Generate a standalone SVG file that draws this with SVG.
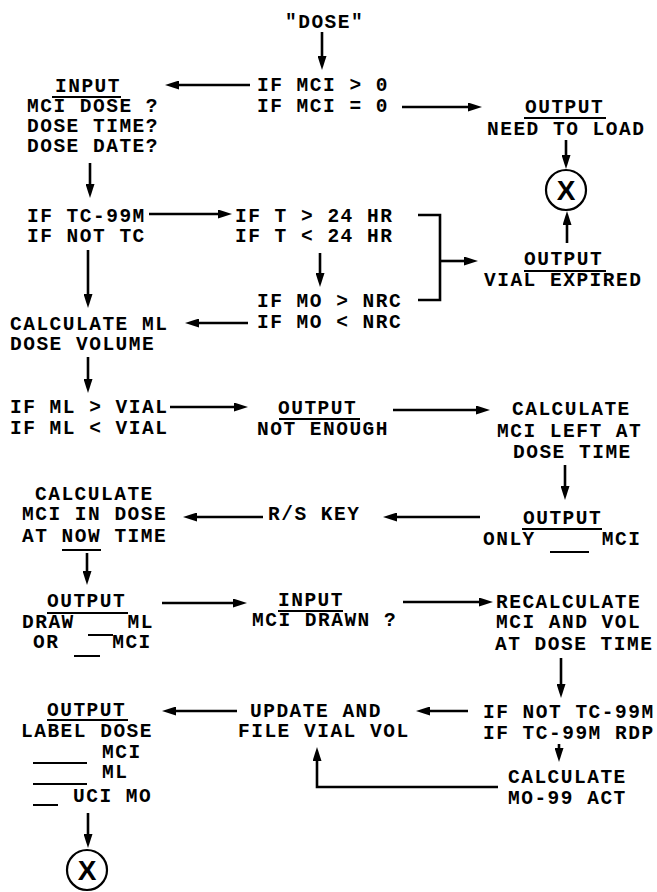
<svg xmlns="http://www.w3.org/2000/svg" width="657" height="892" viewBox="0 0 657 892">
<defs>
<style>
.t{font-family:"Liberation Mono","Courier New",monospace;font-weight:bold;font-size:19.5px;letter-spacing:1.5px;fill:#000;white-space:pre}
.u{stroke:#000;stroke-width:2;fill:none}
.c{stroke:#000;stroke-width:2.6;fill:none}
.a{stroke:#000;stroke-width:2.6;fill:none;marker-end:url(#ah)}
.circ{stroke:#000;stroke-width:2.2;fill:#fff}
.x{font-family:"Liberation Sans",Arial,sans-serif;font-weight:bold;font-size:28px;fill:#000;text-anchor:middle}
</style>
<marker id="ah" viewBox="0 0 14 9" refX="5" refY="4.5" markerWidth="14" markerHeight="9" markerUnits="userSpaceOnUse" orient="auto">
<path d="M0,0 L14,4.5 L0,9 z" fill="#000"/>
</marker>
</defs>
<rect width="657" height="892" fill="#fff"/>

<g id="connectors">
<line class="a" x1="322" y1="32" x2="322" y2="61"/>
<line class="a" x1="250" y1="85" x2="174" y2="85"/>
<line class="a" x1="402" y1="107" x2="473" y2="107"/>
<line class="a" x1="90" y1="163" x2="90" y2="189"/>
<line class="a" x1="566" y1="140" x2="566" y2="160"/>
<line class="a" x1="567" y1="243" x2="567" y2="220"/>
<line class="a" x1="149" y1="214" x2="223" y2="214"/>
<polyline class="c" points="418,215 440,215 440,300 418,300"/>
<line class="a" x1="440" y1="261" x2="469" y2="261"/>
<line class="a" x1="320" y1="253" x2="320" y2="278"/>
<line class="a" x1="248" y1="323" x2="194" y2="323"/>
<line class="a" x1="88" y1="250" x2="88" y2="299"/>
<line class="a" x1="88" y1="357" x2="88" y2="384"/>
<line class="a" x1="170" y1="407" x2="239" y2="407"/>
<line class="a" x1="393" y1="410" x2="481" y2="410"/>
<line class="a" x1="565" y1="465" x2="565" y2="491"/>
<line class="a" x1="480" y1="517" x2="392" y2="517"/>
<line class="a" x1="263" y1="517" x2="192" y2="517"/>
<line class="a" x1="87" y1="553" x2="87" y2="576"/>
<line class="a" x1="162" y1="603" x2="238" y2="603"/>
<line class="a" x1="403" y1="602" x2="484" y2="602"/>
<line class="a" x1="561" y1="658" x2="561" y2="689"/>
<line class="a" x1="468" y1="711" x2="425" y2="711"/>
<line class="a" x1="559" y1="744" x2="559" y2="753"/>
<path class="a" d="M498,787 H317 V756"/>
<line class="a" x1="237" y1="711" x2="171" y2="711"/>
<line class="a" x1="88" y1="813" x2="88" y2="839"/>
</g>

<g id="start"><text class="t" x="285" y="28">"DOSE"</text></g>

<g id="if-mci">
<text class="t" x="257" y="91">IF MCI &gt; 0</text>
<text class="t" x="257" y="112">IF MCI = 0</text>
</g>

<g id="input-dose">
<text class="t" x="55" y="92">INPUT</text>
<line class="u" x1="52" y1="97" x2="121" y2="97"/>
<text class="t" x="27" y="112">MCI DOSE ?</text>
<text class="t" x="27" y="132">DOSE TIME?</text>
<text class="t" x="27" y="152">DOSE DATE?</text>
</g>

<g id="output-need-load">
<text class="t" x="525" y="113">OUTPUT</text>
<line class="u" x1="524" y1="118" x2="606" y2="118"/>
<text class="t" x="487" y="135">NEED TO LOAD</text>
</g>

<g id="exit-1">
<circle class="circ" cx="566" cy="190" r="20"/>
<text class="x" x="566" y="200">X</text>
</g>

<g id="output-vial-expired">
<text class="t" x="524" y="265">OUTPUT</text>
<line class="u" x1="524" y1="271" x2="606" y2="271"/>
<text class="t" x="484" y="286">VIAL EXPIRED</text>
</g>

<g id="if-tc">
<text class="t" x="27" y="222">IF TC-99M</text>
<text class="t" x="27" y="242">IF NOT TC</text>
</g>

<g id="if-t">
<text class="t" x="235" y="222">IF T &gt; 24 HR</text>
<text class="t" x="235" y="242">IF T &lt; 24 HR</text>
</g>

<g id="if-mo">
<text class="t" x="257" y="307">IF MO &gt; NRC</text>
<text class="t" x="257" y="328">IF MO &lt; NRC</text>
</g>

<g id="calc-ml">
<text class="t" x="10" y="330">CALCULATE ML</text>
<text class="t" x="10" y="350">DOSE VOLUME</text>
</g>

<g id="if-ml">
<text class="t" x="10" y="413">IF ML &gt; VIAL</text>
<text class="t" x="10" y="434">IF ML &lt; VIAL</text>
</g>

<g id="output-not-enough">
<text class="t" x="278" y="414">OUTPUT</text>
<line class="u" x1="279" y1="419" x2="360" y2="419"/>
<text class="t" x="257" y="435">NOT ENOUGH</text>
</g>

<g id="calc-mci-left">
<text class="t" x="512" y="415">CALCULATE</text>
<text class="t" x="497" y="437">MCI LEFT AT</text>
<text class="t" x="513" y="458">DOSE TIME</text>
</g>

<g id="output-only">
<text class="t" x="523" y="524">OUTPUT</text>
<line class="u" x1="522" y1="529" x2="602" y2="529"/>
<text class="t" x="483" y="545" xml:space="preserve">ONLY     MCI</text>
<line class="u" x1="550" y1="552" x2="589" y2="552"/>
</g>

<g id="rs-key"><text class="t" x="268" y="520">R/S KEY</text></g>

<g id="calc-mci-now">
<text class="t" x="35" y="500">CALCULATE</text>
<text class="t" x="22" y="520">MCI IN DOSE</text>
<text class="t" x="22" y="542">AT NOW TIME</text>
<line class="u" x1="62" y1="550" x2="101" y2="550"/>
</g>

<g id="output-draw">
<text class="t" x="47" y="607">OUTPUT</text>
<line class="u" x1="47" y1="613" x2="128" y2="613"/>
<text class="t" x="22" y="628" xml:space="preserve">DRAW    ML</text>
<line class="u" x1="88" y1="635" x2="113" y2="635"/>
<text class="t" x="33" y="648" xml:space="preserve">OR    MCI</text>
<line class="u" x1="74" y1="656" x2="100" y2="656"/>
</g>

<g id="input-drawn">
<text class="t" x="278" y="606">INPUT</text>
<line class="u" x1="278" y1="611" x2="343" y2="611"/>
<text class="t" x="252" y="626">MCI DRAWN ?</text>
</g>

<g id="recalc">
<text class="t" x="496" y="608">RECALCULATE</text>
<text class="t" x="496" y="628">MCI AND VOL</text>
<text class="t" x="495" y="650">AT DOSE TIME</text>
</g>

<g id="if-not-tc">
<text class="t" x="483" y="718">IF NOT TC-99M</text>
<text class="t" x="483" y="739">IF TC-99M RDP</text>
</g>

<g id="calc-mo">
<text class="t" x="508" y="783">CALCULATE</text>
<text class="t" x="508" y="804">MO-99 ACT</text>
</g>

<g id="update-file">
<text class="t" x="250" y="717">UPDATE AND</text>
<text class="t" x="238" y="737">FILE VIAL VOL</text>
</g>

<g id="output-label">
<text class="t" x="47" y="716">OUTPUT</text>
<line class="u" x1="47" y1="720" x2="128" y2="720"/>
<text class="t" x="21" y="737">LABEL DOSE</text>
<text class="t" x="102" y="758">MCI</text>
<line class="u" x1="33" y1="763" x2="87" y2="763"/>
<text class="t" x="102" y="778">ML</text>
<line class="u" x1="33" y1="784" x2="87" y2="784"/>
<text class="t" x="73" y="802">UCI MO</text>
<line class="u" x1="33" y1="805" x2="58" y2="805"/>
</g>

<g id="exit-2">
<circle class="circ" cx="87" cy="870" r="20"/>
<text class="x" x="87" y="880">X</text>
</g>
</svg>
